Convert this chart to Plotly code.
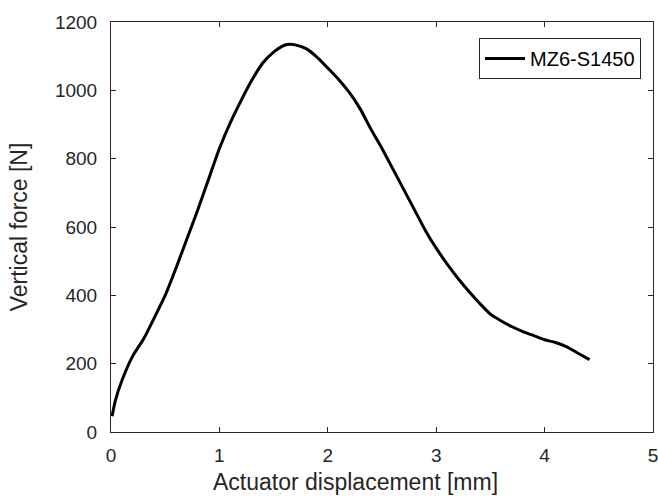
import plotly.graph_objects as go

disp = [0.01, 0.04, 0.10, 0.20, 0.30, 0.40, 0.50, 0.60, 0.70, 0.80, 0.90, 1.00,
        1.10, 1.20, 1.30, 1.40, 1.50, 1.60, 1.65, 1.70, 1.80, 1.90, 2.00, 2.10,
        2.20, 2.30, 2.40, 2.50, 2.60, 2.70, 2.80, 2.90, 3.00, 3.10, 3.20, 3.30,
        3.40, 3.50, 3.60, 3.70, 3.80, 3.90, 4.00, 4.10, 4.20, 4.30, 4.415]
force = [46, 92, 150, 222, 272, 335, 400, 480, 565, 650, 740, 830,
         905, 970, 1030, 1080, 1112, 1132, 1135, 1133, 1122, 1097, 1065, 1032,
         993, 945, 885, 830, 770, 710, 650, 590, 538, 492, 450, 412,
         377, 345, 325, 308, 294, 282, 270, 262, 250, 232, 212]
series_name = "MZ6-S1450"
x_ticks = [0, 1, 2, 3, 4, 5]
y_ticks = [0, 200, 400, 600, 800, 1000, 1200]
x_title = "Actuator displacement [mm]"
y_title = "Vertical force [N]"

FONT = "Liberation Sans, Arial, sans-serif"
DARK = "#262626"

fig = go.Figure()
fig.add_trace(go.Scatter(x=disp, y=force, mode="lines", name=series_name,
                         line=dict(color="black", width=3, shape="spline", smoothing=0.6)))

axis_common = dict(showgrid=False, zeroline=False, showline=True, linecolor=DARK,
                   linewidth=1, mirror="ticks", ticks="inside", ticklen=5, automargin=False,
                   ticklabeloverflow="allow",
                   tickcolor=DARK, tickfont=dict(family=FONT, size=19, color=DARK))
fig.update_xaxes(range=[0, 5], tickvals=x_ticks, ticklabelstandoff=6, **axis_common)
fig.update_yaxes(range=[0, 1200], tickvals=y_ticks, ticklabelstandoff=9,
                 title=dict(text=y_title,
                            font=dict(family=FONT, size=23, color=DARK), standoff=20),
                 **axis_common)

# x-axis label (placed slightly left of centre, as in the reference)
fig.add_annotation(text=x_title, xref="paper", yref="paper", x=0.4505, y=-0.123,
                   xanchor="center", yanchor="middle", showarrow=False,
                   font=dict(family=FONT, size=23, color=DARK))

fig.update_layout(width=658, height=496, plot_bgcolor="white", paper_bgcolor="white",
                  margin=dict(l=111, r=5, t=22, b=64),
                  showlegend=True,
                  legend=dict(x=0.978, y=0.961, xanchor="right", yanchor="top",
                              bordercolor=DARK, borderwidth=1, bgcolor="white",
                              font=dict(family=FONT, size=20, color="black"),
                              itemwidth=40, tracegroupgap=0))
# remove the default 8px page margin so the figure fills the window exactly
fig.write_html("out.html", config={"displayModeBar": False},
               post_script="document.body.style.margin='0';document.body.style.overflow='hidden';")
